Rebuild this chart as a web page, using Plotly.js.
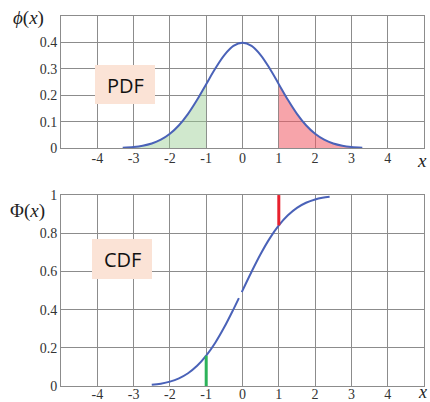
<!DOCTYPE html>
<html>
<head>
<meta charset="utf-8">
<script src="https://cdn.plot.ly/plotly-3.0.1.min.js"></script>
<style>html,body{margin:0;padding:0;background:#fff;}#chart{width:430px;height:402px;}</style>
</head>
<body>
<div id="chart"></div>
<script>
// PDF curve
var pdfX = [-3.3,-3,-2.75,-2.5,-2.25,-2,-1.75,-1.5,-1.25,-1,-0.75,-0.5,-0.25,0,0.25,0.5,0.75,1,1.25,1.5,1.75,2,2.25,2.5,2.75,3,3.3];
var pdfY = [0.0017,0.0044,0.0091,0.0175,0.0317,0.054,0.0863,0.1295,0.1826,0.242,0.3011,0.3521,0.3867,0.3989,0.3867,0.3521,0.3011,0.242,0.1826,0.1295,0.0863,0.054,0.0317,0.0175,0.0091,0.0044,0.0017];
// shaded tails
var leftTailX = [-3.3,-3,-2.75,-2.5,-2.25,-2,-1.75,-1.5,-1.25,-1];
var leftTailY = [0.0017,0.0044,0.0091,0.0175,0.0317,0.054,0.0863,0.1295,0.1826,0.242];
var rightTailX = [1,1.25,1.5,1.75,2,2.25,2.5,2.75,3,3.3];
var rightTailY = [0.242,0.1826,0.1295,0.0863,0.054,0.0317,0.0175,0.0091,0.0044,0.0017];
// CDF curve (with the small break seen near 0)
var cdfX = [-2.5,-2.25,-2,-1.75,-1.5,-1.25,-1,-0.75,-0.5,-0.25,-0.1,-0.07,-0.02,0.25,0.5,0.75,1,1.25,1.5,1.75,2,2.2,2.4];
var cdfY = [0.0062,0.0122,0.0228,0.0401,0.0668,0.1056,0.1587,0.2266,0.3085,0.4013,0.4602,null,0.492,0.5987,0.6915,0.7734,0.8413,0.8944,0.9332,0.9599,0.9772,0.9861,0.9918];
// marker lines at x = -1 and x = 1
var greenLineX = [-1,-1];
var greenLineY = [0,0.1587];
var redLineX = [1,1];
var redLineY = [0.8413,1];
// ticks
var xTickVals = [-4,-3,-2,-1,0,1,2,3,4];
var xTickText = ['-4','-3','-2','-1','0','1','2','3','4'];
var pdfTickVals = [0,0.1,0.2,0.3,0.4];
var pdfTickText = ['0','0.1','0.2','0.3','0.4'];
var cdfTickVals = [0,0.2,0.4,0.6,0.8,1];
var cdfTickText = ['0','0.2','0.4','0.6','0.8','1'];

var blue = '#4a62b8';
var traces = [
  {x:leftTailX, y:leftTailY, xaxis:'x', yaxis:'y', mode:'lines', line:{width:0, color:'rgba(0,0,0,0)'}, fill:'tozeroy', fillcolor:'rgba(150,205,145,0.45)', hoverinfo:'skip'},
  {x:rightTailX, y:rightTailY, xaxis:'x', yaxis:'y', mode:'lines', line:{width:0, color:'rgba(0,0,0,0)'}, fill:'tozeroy', fillcolor:'rgba(240,90,100,0.55)', hoverinfo:'skip'},
  {x:pdfX, y:pdfY, xaxis:'x', yaxis:'y', mode:'lines', line:{color:blue, width:2, shape:'spline'}},
  {x:cdfX, y:cdfY, xaxis:'x2', yaxis:'y2', mode:'lines', line:{color:blue, width:2, shape:'spline'}, connectgaps:false},
  {x:greenLineX, y:greenLineY, xaxis:'x2', yaxis:'y2', mode:'lines', line:{color:'#2db35a', width:3}},
  {x:redLineX, y:redLineY, xaxis:'x2', yaxis:'y2', mode:'lines', line:{color:'#e8212e', width:3}}
];

var gridC = '#8c8c8c';
var serif = 'Liberation Serif, DejaVu Serif, serif';
var tickFont = {family:serif, size:14, color:'#333'};
function xax(anchor, standoff){
  return {range:[-5,5], tickvals:xTickVals, ticktext:xTickText, showgrid:true, gridcolor:gridC, gridwidth:1,
    zeroline:false, showline:true, linecolor:gridC, linewidth:1, mirror:true, ticks:'', tickfont:tickFont,
    ticklabelstandoff:standoff, anchor:anchor, domain:[0,1], fixedrange:true};
}
var layout = {
  width:430, height:402,
  margin:{l:61, r:6, t:16, b:16},
  paper_bgcolor:'#fff', plot_bgcolor:'#fff',
  showlegend:false,
  xaxis: xax('y', -3),
  yaxis: {range:[0,0.5], domain:[0.643,1], tickvals:pdfTickVals, ticktext:pdfTickText, showgrid:true, gridcolor:gridC,
    zeroline:false, showline:true, linecolor:gridC, mirror:true, ticks:'', tickfont:tickFont, anchor:'x'},
  xaxis2: xax('y2', -5),
  yaxis2: {range:[0,1], domain:[0,0.516], tickvals:cdfTickVals, ticktext:cdfTickText, showgrid:true, gridcolor:gridC,
    zeroline:false, showline:true, linecolor:gridC, mirror:true, ticks:'', tickfont:tickFont, anchor:'x2'},
  shapes:[
    {type:'rect', xref:'paper', yref:'paper', x0:(95-61)/363, x1:(155-61)/363, y0:(386-104)/370, y1:(386-65)/370, fillcolor:'#fbe3d6', line:{width:0}, layer:'above'},
    {type:'rect', xref:'paper', yref:'paper', x0:(92-61)/363, x1:(152-61)/363, y0:(386-279)/370, y1:(386-239)/370, fillcolor:'#fbe3d6', line:{width:0}, layer:'above'}
  ],
  annotations:[
    {text:'PDF', xref:'paper', yref:'paper', x:(125-61)/363, y:(386-85)/370, xanchor:'center', yanchor:'middle', showarrow:false, font:{family:'Open Sans, Noto Sans, sans-serif', size:20, color:'#111'}},
    {text:'CDF', xref:'paper', yref:'paper', x:(122-61)/363, y:(386-259)/370, xanchor:'center', yanchor:'middle', showarrow:false, font:{family:'Open Sans, Noto Sans, sans-serif', size:20, color:'#111'}},
    {text:'<i>ϕ</i>(<i>x</i>)', xref:'paper', yref:'paper', x:(28-61)/363, y:(386-18)/370, xanchor:'center', yanchor:'middle', showarrow:false, font:{family:serif, size:19, color:'#222'}},
    {text:'Φ(<i>x</i>)', xref:'paper', yref:'paper', x:(27-61)/363, y:(386-211)/370, xanchor:'center', yanchor:'middle', showarrow:false, font:{family:serif, size:19, color:'#222'}},
    {text:'<i>x</i>', xref:'paper', yref:'paper', x:(422-61)/363, y:(386-160)/370, xanchor:'center', yanchor:'middle', showarrow:false, font:{family:serif, size:19, color:'#222'}},
    {text:'<i>x</i>', xref:'paper', yref:'paper', x:(422-61)/363, y:(386-392)/370, xanchor:'center', yanchor:'middle', showarrow:false, font:{family:serif, size:18, color:'#222'}}
  ]
};
Plotly.newPlot('chart', traces, layout, {displayModeBar:false, staticPlot:true});
</script>
</body>
</html>
